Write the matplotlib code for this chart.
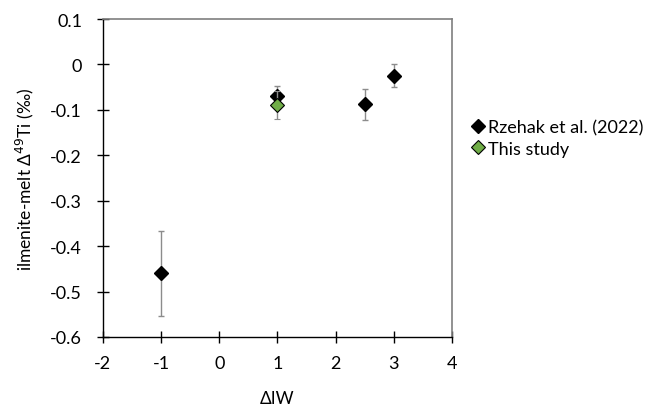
import matplotlib
matplotlib.use('Agg')
import matplotlib.pyplot as plt
from matplotlib.ticker import FixedLocator, FuncFormatter

plt.rcParams['font.family'] = ['Lato', 'DejaVu Sans']
plt.rcParams['axes.unicode_minus'] = False

# ── data ─────────────────────────────────────────────────────────────────────
rz_x = [-1, 1, 2.5, 3]
rz_y = [-0.46, -0.070, -0.088, -0.025]
rz_err = [0.093, 0.022, 0.035, 0.025]

ts_x = [1]
ts_y = [-0.089]
ts_err = [0.030]

xticks = [-2, -1, 0, 1, 2, 3, 4]
yticks = [0.1, 0, -0.1, -0.2, -0.3, -0.4, -0.5, -0.6]

# ── figure ───────────────────────────────────────────────────────────────────
fig = plt.figure(figsize=(6.55, 4.14), dpi=100)
ax = fig.add_axes([0.157, 0.1836, 0.533, 0.768])

ax.errorbar(rz_x, rz_y, yerr=rz_err, fmt='D', color='black', ms=7.5,
            mec='black', ecolor='#8c8c8c', elinewidth=1.0, capsize=2.5,
            capthick=1.0, zorder=3, label='Rzehak et al. (2022)')
ax.errorbar(ts_x, ts_y, yerr=ts_err, fmt='D', color='#70AD47', ms=7.5,
            mec='black', mew=0.8, ecolor='#8c8c8c', elinewidth=1.0,
            capsize=2.5, capthick=1.0, zorder=4, label='This study')

ax.set_xlim(-2, 4)
ax.set_ylim(-0.6, 0.1)
ax.xaxis.set_major_locator(FixedLocator(xticks))
ax.yaxis.set_major_locator(FixedLocator(yticks))
ax.yaxis.set_major_formatter(FuncFormatter(lambda v, p: '0' if abs(v) < 1e-9 else f'{v:.1f}'))
ax.xaxis.set_major_formatter(FuncFormatter(lambda v, p: f'{v:.0f}'))

for s in ['left', 'bottom']:
    ax.spines[s].set_color('black')
    ax.spines[s].set_linewidth(1.0)
for s in ['top', 'right']:
    ax.spines[s].set_color('#7f7f7f')
    ax.spines[s].set_linewidth(1.2)

ax.tick_params(direction='inout', length=8, width=1.0, labelsize=13,
               colors='black')
ax.tick_params(axis='y', pad=11)
ax.tick_params(axis='x', pad=9)

ax.set_xlabel('ΔIW', fontsize=12.5, labelpad=14)
ax.set_ylabel('ilmenite-melt Δ$^{49}$Ti (‰)', fontsize=12.5, labelpad=10)

h, l = ax.get_legend_handles_labels()
h = [hh[0] for hh in h]
fig.legend(h, l, loc='upper left', bbox_to_anchor=(0.705, 0.727),
           frameon=False, fontsize=13, handletextpad=0.05,
           handlelength=1.0, labelspacing=0.3, borderaxespad=0)

fig.savefig('out.png', dpi=100)
